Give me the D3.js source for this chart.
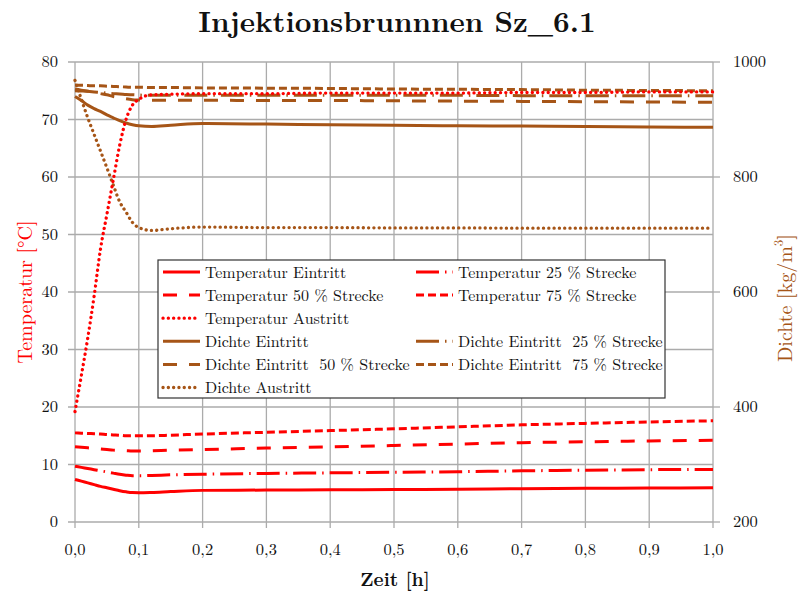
<!DOCTYPE html>
<html>
<head>
<meta charset="utf-8">
<script src="https://cdn.jsdelivr.net/npm/d3@7"></script>
<style>
  body { margin: 0; background: #fff; }
</style>
</head>
<body>
<div id="chart"></div>
<script>
// zeitpunkte [h]
const zeit = [0, 0.01, 0.02, 0.03, 0.04, 0.05, 0.06, 0.07, 0.08, 0.09, 0.1, 0.12, 0.15, 0.2, 0.3, 0.4, 0.5, 0.6, 0.7, 0.8, 0.9, 1.0];

// temperaturen [°C]
const tempEintritt = [7.4, 7.1, 6.8, 6.5, 6.2, 5.95, 5.7, 5.45, 5.25, 5.12, 5.1, 5.15, 5.3, 5.5, 5.55, 5.6, 5.65, 5.7, 5.8, 5.85, 5.9, 5.95];
const temp25 = [9.7, 9.5, 9.3, 9.1, 8.9, 8.7, 8.5, 8.3, 8.15, 8.05, 8.05, 8.1, 8.2, 8.3, 8.45, 8.55, 8.65, 8.75, 8.9, 9.0, 9.1, 9.15];
const temp50 = [13.1, 13.0, 12.9, 12.8, 12.7, 12.6, 12.5, 12.45, 12.4, 12.35, 12.35, 12.4, 12.5, 12.6, 12.85, 13.05, 13.3, 13.55, 13.8, 13.95, 14.1, 14.2];
const temp75 = [15.5, 15.45, 15.4, 15.35, 15.3, 15.2, 15.15, 15.1, 15.0, 15.0, 15.0, 15.0, 15.1, 15.3, 15.6, 15.9, 16.2, 16.55, 16.9, 17.15, 17.4, 17.6];
const tempAustritt = [19.2, 25.5, 32, 39.3, 47.5, 53.5, 59.5, 65.5, 70, 72.5, 73.5, 74.3, 74.4, 74.5, 74.5, 74.6, 74.6, 74.6, 74.7, 74.7, 74.8, 74.8];

// dichten [kg/m3]
const dichteEintritt = [940, 933, 925, 919, 914, 908, 903, 898, 894, 891, 889, 888, 890, 893, 892, 891, 890, 889, 888.5, 888, 887, 886.5];
const dichte25 = [950, 949.5, 949, 948, 947, 946, 945, 944.5, 943.5, 943, 942.5, 942, 942, 942, 942, 942, 942, 942, 941.5, 941.5, 941.5, 941.5];
const dichte50 = [953, 951, 949, 947, 945, 943, 940, 938, 936, 934.5, 934, 933.5, 933.5, 933.5, 933, 933, 932.5, 932, 931.5, 931, 930.5, 930];
const dichte75 = [960, 959.5, 959, 958.5, 958.5, 958, 957.5, 957, 956.5, 956, 956, 955.5, 955.5, 955, 954.5, 954, 953, 952.5, 952, 951, 950.5, 950];
const dichteAustritt = [968, 935, 903, 874, 845, 816, 786, 757, 739, 721, 712, 707, 710, 713, 712, 712, 711.5, 711.5, 711, 711, 711, 711];

const xTicks = [0, 0.1, 0.2, 0.3, 0.4, 0.5, 0.6, 0.7, 0.8, 0.9, 1.0];
const yTicksLeft = [0, 10, 20, 30, 40, 50, 60, 70, 80];
const yTicksRight = [200, 400, 600, 800, 1000];

const rot = "#ff0000";
const braun = "#a65517";
const font = "Latin Modern Roman, Liberation Serif, serif";

const series = [
  { name: "Temperatur Eintritt", values: tempEintritt, axis: "T", color: rot, dash: null, col: 0, row: 0 },
  { name: "Temperatur 25 % Strecke", values: temp25, axis: "T", color: rot, dash: "23,6,1.5,6", col: 1, row: 0 },
  { name: "Temperatur 50 % Strecke", values: temp50, axis: "T", color: rot, dash: "14,12", col: 0, row: 1 },
  { name: "Temperatur 75 % Strecke", values: temp75, axis: "T", color: rot, dash: "8,4", col: 1, row: 1 },
  { name: "Temperatur Austritt", values: tempAustritt, axis: "T", color: rot, dash: "dot", col: 0, row: 2 },
  { name: "Dichte Eintritt", values: dichteEintritt, axis: "D", color: braun, dash: null, col: 0, row: 3 },
  { name: "Dichte Eintritt  25 % Strecke", values: dichte25, axis: "D", color: braun, dash: "23,6,1.5,6", col: 1, row: 3 },
  { name: "Dichte Eintritt  50 % Strecke", values: dichte50, axis: "D", color: braun, dash: "14,12", col: 0, row: 4 },
  { name: "Dichte Eintritt  75 % Strecke", values: dichte75, axis: "D", color: braun, dash: "8,4", col: 1, row: 4 },
  { name: "Dichte Austritt", values: dichteAustritt, axis: "D", color: braun, dash: "dot", col: 0, row: 5 },
];

const width = 798, height = 594;
const margin = { top: 62, right: 85, bottom: 72, left: 75 };
const innerW = width - margin.left - margin.right;
const innerH = height - margin.top - margin.bottom;

const svg = d3.select("#chart").append("svg")
  .attr("width", width)
  .attr("height", height)
  .attr("font-family", font);

const x = d3.scaleLinear().domain([0, 1]).range([0, innerW]);
const yT = d3.scaleLinear().domain([0, 80]).range([innerH, 0]);
const yD = d3.scaleLinear().domain([200, 1000]).range([innerH, 0]);

const g = svg.append("g").attr("transform", `translate(${margin.left},${margin.top})`);

const gridColor = "#ababab";
const fmt = d3.format(".1f");

// grid
g.append("g").selectAll("line").data(xTicks).join("line")
  .attr("x1", d => x(d)).attr("x2", d => x(d))
  .attr("y1", 0).attr("y2", innerH + 6)
  .attr("stroke", gridColor).attr("stroke-width", 1.3);
g.append("g").selectAll("line").data(yTicksLeft).join("line")
  .attr("x1", -7).attr("x2", innerW)
  .attr("y1", d => yT(d)).attr("y2", d => yT(d))
  .attr("stroke", gridColor).attr("stroke-width", 1.3);
g.append("g").selectAll("line").data(yTicksRight).join("line")
  .attr("x1", innerW).attr("x2", innerW + 7)
  .attr("y1", d => yD(d)).attr("y2", d => yD(d))
  .attr("stroke", gridColor).attr("stroke-width", 1.3);

// tick labels
g.append("g").selectAll("text").data(xTicks).join("text")
  .attr("x", d => x(d)).attr("y", innerH + 33)
  .attr("text-anchor", "middle").attr("font-size", 16.5).attr("fill", "#111")
  .text(d => fmt(d).replace(".", ","));
g.append("g").selectAll("text").data(yTicksLeft).join("text")
  .attr("x", -17).attr("y", d => yT(d) + 5)
  .attr("text-anchor", "end").attr("font-size", 16.5).attr("fill", "#111")
  .text(d => d);
g.append("g").selectAll("text").data(yTicksRight).join("text")
  .attr("x", innerW + 20).attr("y", d => yD(d) + 5)
  .attr("text-anchor", "start").attr("font-size", 16.5).attr("fill", "#111")
  .text(d => d);

// lines
function lineFor(s) {
  const yScale = s.axis === "T" ? yT : yD;
  return d3.line()
    .x((d, i) => x(zeit[i]))
    .y(d => yScale(d))
    .curve(d3.curveMonotoneX)(s.values);
}

function styleLine(sel, s) {
  sel.attr("fill", "none")
    .attr("stroke", s.color)
    .attr("stroke-width", 3);
  if (s.dash === "dot") {
    sel.attr("stroke-dasharray", "0.1,5.2").attr("stroke-linecap", "round").attr("stroke-width", 3.3);
  } else if (s.dash) {
    sel.attr("stroke-dasharray", s.dash);
  }
}

// temperaturen zuletzt, liegen oben
const drawOrder = series.slice(5).concat(series.slice(0, 5));
drawOrder.forEach(s => {
  g.append("path").attr("d", lineFor(s)).call(styleLine, s);
});

// legend
const legend = svg.append("g").attr("transform", "translate(158,260)");
legend.append("rect")
  .attr("width", 507).attr("height", 138)
  .attr("fill", "#fff").attr("stroke", "#333").attr("stroke-width", 1.2);

const colX = [5, 258];
const rowH = 23.1;
series.forEach(s => {
  const item = legend.append("g")
    .attr("transform", `translate(${colX[s.col]},${12 + s.row * rowH})`);
  item.append("path")
    .attr("d", "M0,0 L37,0")
    .call(styleLine, s);
  item.append("text")
    .attr("x", 42).attr("y", 5.5)
    .attr("font-size", 16).attr("fill", "#111")
    .attr("xml:space", "preserve")
    .style("white-space", "pre")
    .text(s.name);
});

// titles
svg.append("text")
  .attr("x", 397).attr("y", 32)
  .attr("text-anchor", "middle")
  .attr("font-size", 29).attr("font-weight", "bold").attr("fill", "#111")
  .text("Injektionsbrunnnen Sz_6.1");

svg.append("text")
  .attr("x", 395).attr("y", 586)
  .attr("text-anchor", "middle")
  .attr("font-size", 19).attr("font-weight", "bold").attr("fill", "#111")
  .text("Zeit [h]");

svg.append("text")
  .attr("transform", "translate(32,292) rotate(-90)")
  .attr("text-anchor", "middle")
  .attr("font-size", 20).attr("fill", rot)
  .text("Temperatur [°C]");

const dl = svg.append("text")
  .attr("transform", "translate(792,298) rotate(-90)")
  .attr("text-anchor", "middle")
  .attr("font-size", 20).attr("fill", braun);
dl.append("tspan").text("Dichte [kg/m");
dl.append("tspan").attr("baseline-shift", "super").attr("font-size", 13).text("3");
dl.append("tspan").text("]");
</script>
</body>
</html>
